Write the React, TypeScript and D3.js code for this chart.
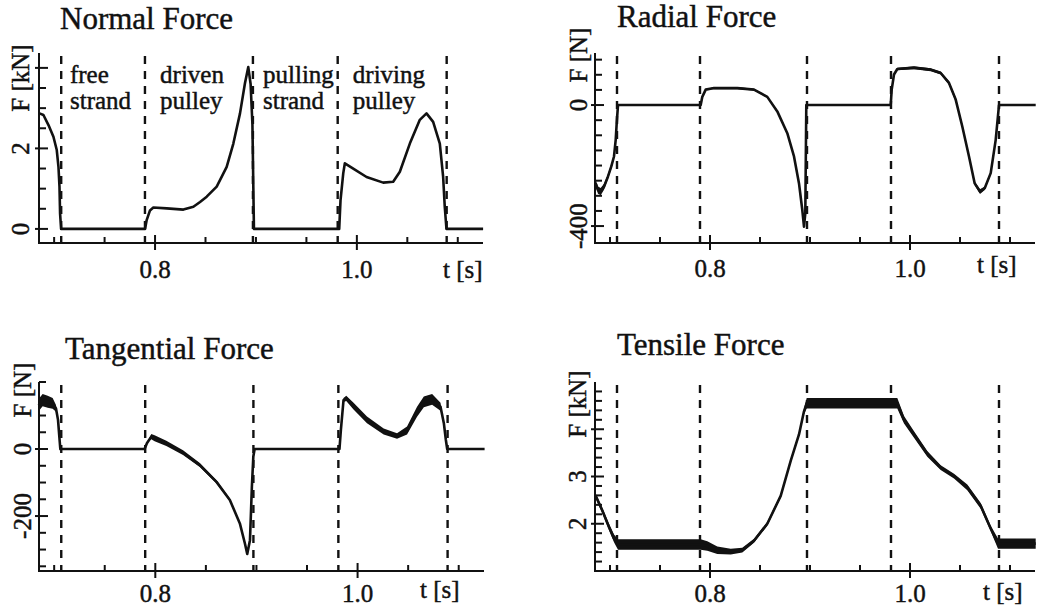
import React from 'react';
import * as d3 from 'd3';

// [t (s), value, noise half-width]
type Pt = [number, number, number?];

const timeTicks = [0.7, 0.75, 0.8, 0.85, 0.9, 0.95, 1.0, 1.05, 1.1];
const timeLabels = [0.8, 1.0];
const phaseBounds = [0.707, 0.79, 0.897, 0.981, 1.089];

const phaseNames = [
  { t: 0.7157, lines: ['free', 'strand'] },
  { t: 0.805, lines: ['driven', 'pulley'] },
  { t: 0.907, lines: ['pulling', 'strand'] },
  { t: 0.996, lines: ['driving', 'pulley'] },
];

const normalForce: Pt[] = [
  [0.6855, 2.87], [0.6894, 2.83], [0.6944, 2.58], [0.6993, 2.29], [0.7026, 1.96],
  [0.7043, 1.54], [0.7053, 1.05], [0.7059, 0.38], [0.7069, 0], [0.7901, 0],
  [0.7917, 0.22], [0.795, 0.46], [0.7983, 0.53], [0.8116, 0.51], [0.8281, 0.48],
  [0.838, 0.55], [0.8446, 0.67], [0.8512, 0.8], [0.8611, 1.05], [0.871, 1.54],
  [0.8776, 2.12], [0.8842, 2.87], [0.8891, 3.62], [0.8924, 4.02], [0.8947, 3.6],
  [0.8965, 2.6], [0.898, 0], [0.9825, 0], [0.9838, 0.71], [0.9865, 1.38],
  [0.9881, 1.63], [0.9964, 1.5], [1.0096, 1.29], [1.0261, 1.15], [1.036, 1.17],
  [1.0426, 1.42], [1.0525, 2.12], [1.0624, 2.71], [1.069, 2.87], [1.0756, 2.66],
  [1.0822, 2.12], [1.0855, 1.29], [1.0871, 0.55], [1.0888, 0], [1.1251, 0],
];

const radialForce: Pt[] = [
  [0.6857, -259, 12], [0.688, -281, 12], [0.6907, -286, 12], [0.694, -270, 10], [0.698, -236, 8],
  [0.7013, -203, 8], [0.704, -170, 6], [0.7057, -115], [0.7067, -60], [0.708, 0],
  [0.7907, 0], [0.7923, 27], [0.7957, 51], [0.804, 56, 4], [0.8273, 56, 4],
  [0.844, 51, 3], [0.8573, 27, 3], [0.8673, -21, 4], [0.8773, -93, 4], [0.884, -170, 5],
  [0.889, -259, 5], [0.8923, -347, 6], [0.894, -402, 6], [0.8953, -358], [0.8963, 0],
  [0.9807, 0], [0.9817, 51], [0.984, 101], [0.9873, 119, 4], [1.004, 123, 5],
  [1.0207, 117, 5], [1.0307, 106, 5], [1.039, 73, 6], [1.0457, 18, 8], [1.0523, -71, 8],
  [1.059, -170, 6], [1.0647, -259, 6], [1.07, -286, 8], [1.0747, -275, 6], [1.0807, -225, 6],
  [1.0857, -115, 6], [1.089, 0], [1.1257, 0],
];

const tangentialForce: Pt[] = [
  [0.6846, 131, 18], [0.6886, 146, 18], [0.6936, 141, 18], [0.6985, 136, 16], [0.7018, 121, 10],
  [0.7038, 87], [0.7051, 37], [0.7061, 0], [0.7894, 0], [0.7917, 17],
  [0.796, 37, 8], [0.7993, 32, 9], [0.8109, 17, 8], [0.8274, -11, 7], [0.844, -48, 6],
  [0.8605, -98, 5], [0.8737, -152, 4], [0.8836, -222, 3], [0.8886, -282, 3], [0.8909, -313, 3],
  [0.8936, -272], [0.8955, -112], [0.8969, -23], [0.8982, 0], [0.9821, 0],
  [0.9835, 57], [0.9861, 146, 6], [0.9888, 151, 8], [0.996, 128, 10], [1.0093, 87, 10],
  [1.0258, 52, 9], [1.039, 39, 8], [1.0489, 55, 12], [1.0588, 111, 15], [1.0655, 141, 16],
  [1.0737, 148, 16], [1.082, 126, 12], [1.0853, 77], [1.0873, 27], [1.0886, 0],
  [1.1256, 0],
];

const tensileForce: Pt[] = [
  [0.6857, 2.59, 0.05], [0.6923, 2.28, 0.06], [0.699, 1.93, 0.07], [0.704, 1.69, 0.08], [0.708, 1.56, 0.11],
  [0.7907, 1.56, 0.11], [0.7973, 1.53, 0.1], [0.8073, 1.44, 0.08], [0.8207, 1.41, 0.06], [0.8323, 1.44, 0.05],
  [0.844, 1.64, 0.04], [0.8573, 2.0, 0.04], [0.8707, 2.59, 0.04], [0.8807, 3.33, 0.04], [0.889, 3.89, 0.04],
  [0.894, 4.38, 0.06], [0.8967, 4.55, 0.11], [0.9873, 4.55, 0.11], [0.994, 4.2, 0.08], [1.004, 3.89, 0.07],
  [1.0173, 3.48, 0.06], [1.0307, 3.19, 0.05], [1.044, 3.01, 0.05], [1.0573, 2.77, 0.06], [1.0707, 2.38, 0.06],
  [1.0807, 1.9, 0.06], [1.088, 1.58, 0.11], [1.1257, 1.58, 0.11],
];

const normalTicks = [0, 0.5, 1, 1.5, 2, 2.5, 3, 3.5, 4];
const normalMajor = [0, 2, 4];
const normalLabels = ['0', '2'];
const radialTicks = [-400, -350, -300, -250, -200, -150, -100, -50, 0, 50, 100, 150];
const radialMajor = [-400, 0];
const radialLabels = ['-400', '0'];
const tangentialTicks = [-350, -300, -250, -200, -150, -100, -50, 0, 50, 100, 150, 200];
const tangentialMajor = [-200, 0];
const tangentialLabels = ['-200', '0'];
const tensileTicks = [1.2, 1.4, 1.6, 1.8, 2, 2.2, 2.4, 2.6, 2.8, 3, 3.2, 3.4, 3.6, 3.8, 4, 4.2, 4.4, 4.6, 4.8];
const tensileMajor = [2, 3, 4];
const tensileLabels = ['2', '3'];

const INK = '#111';
const FONT = '"Liberation Serif", "Times New Roman", serif';
// scanned print looks a bit heavier than the plain font
const textInk = { fill: INK, stroke: INK, strokeWidth: 0.45, fontFamily: FONT };

type PanelProps = {
  title: string;
  unit: string;
  data: Pt[];
  yDomain: [number, number];
  ticks: number[];
  major: number[];
  labels: string[];
  box: { left: number; right: number; top: number; bottom: number };
  titlePos: [number, number];
  tLabelPos: [number, number];
  xLabelBase: number;
  yLabelX: number;
  unitCenter: number;
  notes?: boolean;
};

function Panel(p: PanelProps) {
  const { box } = p;
  const x = d3.scaleLinear().domain([0.685, 1.125]).range([box.left, box.right]);
  const y = d3.scaleLinear().domain(p.yDomain).range([box.bottom, box.top]);
  const line = d3.line<Pt>().x(d => x(d[0])).y(d => y(d[1]));
  const band = d3
    .area<Pt>()
    .x(d => x(d[0]))
    .y0(d => y(d[1] - (d[2] ?? 0)))
    .y1(d => y(d[1] + (d[2] ?? 0)));

  return (
    <g>
      <text x={p.titlePos[0]} y={p.titlePos[1]} fontSize={31} {...textInk}>
        {p.title}
      </text>
      {/* axes */}
      <path
        d={`M${box.left},${box.top}V${box.bottom}H${box.right}`}
        fill="none"
        stroke={INK}
        strokeWidth={2}
      />
      {p.ticks.map(v => {
        const isMajor = p.major.some(m => Math.abs(m - v) < 1e-6);
        return (
          <line
            key={'y' + v}
            x1={box.left - (isMajor ? 4 : 0)}
            x2={box.left + (isMajor ? 9 : 7)}
            y1={y(v)}
            y2={y(v)}
            stroke={INK}
            strokeWidth={2}
          />
        );
      })}
      {timeTicks.map(v => {
        const isMajor = timeLabels.includes(v);
        return (
          <line
            key={'x' + v}
            x1={x(v)}
            x2={x(v)}
            y1={box.bottom - (isMajor ? 8 : 6)}
            y2={box.bottom + (isMajor ? 7 : 0)}
            stroke={INK}
            strokeWidth={2}
          />
        );
      })}
      {/* phase borders */}
      {phaseBounds.map(t => (
        <line
          key={'d' + t}
          x1={x(t)}
          x2={x(t)}
          y1={box.top + 3}
          y2={box.bottom}
          stroke={INK}
          strokeWidth={2.4}
          strokeDasharray="8,7"
        />
      ))}
      {/* trace */}
      <path d={band(p.data) ?? ''} fill={INK} stroke="none" />
      <path d={line(p.data) ?? ''} fill="none" stroke={INK} strokeWidth={2.6} strokeLinejoin="round" />
      {/* labels */}
      {timeLabels.map(v => (
        <text key={'xl' + v} x={x(v)} y={p.xLabelBase} textAnchor="middle" fontSize={25} {...textInk}>
          {v.toFixed(1)}
        </text>
      ))}
      <text x={p.tLabelPos[0]} y={p.tLabelPos[1]} fontSize={25} {...textInk}>
        t [s]
      </text>
      {p.labels.map(s => (
        <text
          key={'yl' + s}
          transform={`translate(${p.yLabelX},${y(+s)}) rotate(-90)`}
          textAnchor="middle"
          fontSize={25}
          {...textInk}
        >
          {s}
        </text>
      ))}
      <text
        transform={`translate(${p.yLabelX},${p.unitCenter}) rotate(-90)`}
        textAnchor="middle"
        fontSize={25}
        {...textInk}
      >
        {p.unit}
      </text>
      {p.notes &&
        phaseNames.map(n => (
          <text key={n.lines[0]} x={x(n.t)} fontSize={25} {...textInk}>
            <tspan x={x(n.t)} y={83}>{n.lines[0]}</tspan>
            <tspan x={x(n.t)} y={109}>{n.lines[1]}</tspan>
          </text>
        ))}
    </g>
  );
}

export default function App() {
  return (
    <svg
      width={1045}
      height={610}
      style={{ position: 'absolute', left: 0, top: 0, background: '#fff' }}
    >
      <rect width={1045} height={610} fill="#fff" />
      <Panel
        title="Normal Force"
        unit="F [kN]"
        data={normalForce}
        yDomain={[-0.35, 4.37]}
        ticks={normalTicks}
        major={normalMajor}
        labels={normalLabels}
        box={{ left: 39, right: 483, top: 53, bottom: 243 }}
        titlePos={[60, 29]}
        tLabelPos={[443, 278]}
        xLabelBase={278}
        yLabelX={29}
        unitCenter={78}
        notes
      />
      <Panel
        title="Radial Force"
        unit="F [N]"
        data={radialForce}
        yDomain={[-456, 172]}
        ticks={radialTicks}
        major={radialMajor}
        labels={radialLabels}
        box={{ left: 595, right: 1035, top: 53, bottom: 243 }}
        titlePos={[617, 27]}
        tLabelPos={[977, 273]}
        xLabelBase={277}
        yLabelX={587}
        unitCenter={55}
      />
      <Panel
        title="Tangential Force"
        unit="F [N]"
        data={tangentialForce}
        yDomain={[-364, 200]}
        ticks={tangentialTicks}
        major={tangentialMajor}
        labels={tangentialLabels}
        box={{ left: 39, right: 484, top: 382, bottom: 571 }}
        titlePos={[65, 359]}
        tLabelPos={[420, 598]}
        xLabelBase={602}
        yLabelX={31}
        unitCenter={390}
      />
      <Panel
        title="Tensile Force"
        unit="F [kN]"
        data={tensileForce}
        yDomain={[1.0, 5.0]}
        ticks={tensileTicks}
        major={tensileMajor}
        labels={tensileLabels}
        box={{ left: 595, right: 1035, top: 382, bottom: 571 }}
        titlePos={[617, 355]}
        tLabelPos={[983, 600]}
        xLabelBase={602}
        yLabelX={586}
        unitCenter={404}
      />
    </svg>
  );
}
